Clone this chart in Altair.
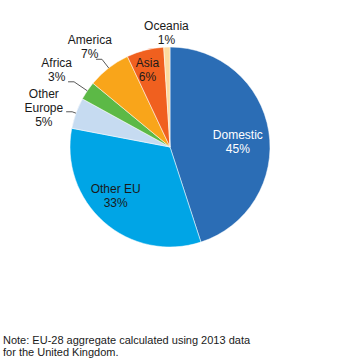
import altair as alt
import pandas as pd
import numpy as np

categories = ["Domestic", "Other EU", "Other Europe", "Africa", "America", "Asia", "Oceania"]
shares = [45, 33, 5, 3, 7, 6, 1]
colors = ["#2B6DB5", "#00A5E6", "#C6DBF1", "#5CB946", "#F9A51A", "#F0601F", "#FCDA9E"]
label_text = ["Domestic\n45%", "Other EU\n33%", "Other\nEurope\n5%", "Africa\n3%",
              "America\n7%", "Asia\n6%", "Oceania\n1%"]
white_label = ["Domestic"]
label_radius = [68, 73, 132, 137, 128, 80, 114]
label_turn_deg = [4.8, 6.7, -2.7, 0, -1, -2, 0]
elbow_radius = [0, 0, 104, 116, 111, 0, 0]
note_lines = ["Note: EU-28 aggregate calculated using 2013 data", "for the United Kingdom."]

CX, CY, R = 170, 147, 100
LH = 14
total = sum(shares)

# polar -> pixel positions derived from the cumulative shares
cum = np.cumsum([0] + shares)
mid_ang = [(cum[i] + shares[i] / 2) / total * 2 * np.pi for i in range(len(shares))]

lab_x, lab_y = [], []
for i, t in enumerate(label_text):
    n = t.count("\n") + 1
    a = mid_ang[i] + np.radians(label_turn_deg[i])
    lab_x.append(CX + label_radius[i] * np.sin(a))
    lab_y.append(CY - label_radius[i] * np.cos(a) - (n - 1) * LH / 2)

df = pd.DataFrame({
    "cat": categories, "share": shares, "idx": list(range(len(categories))),
    "label": label_text, "lx": lab_x, "ly": lab_y,
    "white": [c in white_label for c in categories],
})

rows = []
for i, c in enumerate(categories):
    if elbow_radius[i] <= 0:
        continue
    a = mid_ang[i]
    ex, ey = CX + R * np.sin(a), CY - R * np.cos(a)
    bx, by = CX + elbow_radius[i] * np.sin(a), CY - elbow_radius[i] * np.cos(a)
    rows += [
        {"cat": c, "o": 0, "x": ex, "y": ey},
        {"cat": c, "o": 1, "x": bx, "y": by},
        {"cat": c, "o": 2, "x": bx - 6, "y": by},
    ]
lines_df = pd.DataFrame(rows)

arcs = alt.Chart(df).mark_arc(outerRadius=R, stroke="white", strokeWidth=0.5).encode(
    theta=alt.Theta("share:Q", stack=True, scale=alt.Scale(domain=[0, total])),
    order=alt.Order("idx:Q"),
    color=alt.Color("cat:N", scale=alt.Scale(domain=categories, range=colors), legend=None),
    x=alt.value(CX), y=alt.value(CY),
)

labels = alt.Chart(df).mark_text(fontSize=12, font="Liberation Sans", lineBreak="\n",
                                 align="center", baseline="middle", lineHeight=LH).encode(
    x=alt.X("lx:Q", scale=None, axis=None),
    y=alt.Y("ly:Q", scale=None, axis=None),
    text="label:N",
    color=alt.condition(alt.datum.white, alt.value("#FFFFFF"), alt.value("#1A1A1A")),
)

leaders = alt.Chart(lines_df).mark_line(color="#595959", strokeWidth=1).encode(
    x=alt.X("x:Q", scale=None, axis=None),
    y=alt.Y("y:Q", scale=None, axis=None),
    detail="cat:N",
    order="o:Q",
)

note_df = pd.DataFrame({"t": note_lines, "i": list(range(len(note_lines)))})
note = alt.Chart(note_df).mark_text(fontSize=11, font="Liberation Sans", align="left",
                                    baseline="middle", color="#1A1A1A").encode(
    text="t:N",
    x=alt.value(3),
    y=alt.Y("i:Q", scale=alt.Scale(domain=[0, 1], range=[341, 353]), axis=None),
)

chart = alt.layer(arcs, leaders, labels, note).properties(
    width=350, height=362, autosize=alt.AutoSizeParams(type="none"), padding=0
).resolve_scale(y="independent", x="independent").configure_view(stroke=None)

chart.save("out.html", embed_options={"renderer": "svg", "actions": False})
